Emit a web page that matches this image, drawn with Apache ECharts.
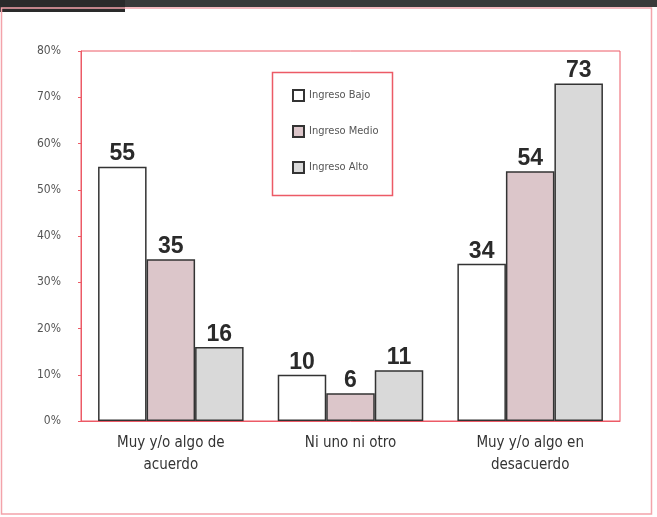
<!DOCTYPE html>
<html>
<head>
    <meta charset="utf-8">
    <title>Ingreso</title>
    <script src="https://cdn.jsdelivr.net/npm/echarts@6/dist/echarts.min.js"></script>
</head>
<body style="margin:0;background:#fff">
<div id="main" style="width:657px;height:517px"></div>
<script type="text/javascript">
    // datos
    var categorias = ['Muy y/o algo de\nacuerdo', 'Ni uno ni otro', 'Muy y/o algo en\ndesacuerdo'];
    var series_nombres = ['Ingreso Bajo', 'Ingreso Medio', 'Ingreso Alto'];
    var bajo = [55, 10, 34];
    var medio = [35, 6, 54];
    var alto = [16, 11, 73];
    var colores = ['#ffffff', '#dcc6ca', '#d9d9d9'];

    var rojo = '#ec5a66';
    var narrow = "'Liberation Sans Narrow', 'DejaVu Sans Condensed', sans-serif";

    var myChart = echarts.init(document.getElementById('main'));

    function serie(nombre, datos, color) {
        return {
            name: nombre,
            type: 'bar',
            data: datos,
            barWidth: '27%',
            barGap: '0%',
            itemStyle: { color: color, borderColor: '#333', borderWidth: 1.5 },
            label: {
                show: true,
                position: 'top',
                distance: 1,
                color: '#2a2a2a',
                fontSize: 23,
                fontWeight: 'bold',
                fontFamily: "'Liberation Sans', Arial, sans-serif"
            }
        };
    }

    myChart.setOption({
        backgroundColor: '#fff',
        animation: false,
        grid: {
            left: 81, right: 37, top: 51, bottom: 96,
            show: true, borderColor: rojo, borderWidth: 1
        },
        legend: {
            orient: 'vertical',
            left: 287,
            top: 84,
            itemWidth: 11,
            itemHeight: 11,
            itemGap: 23,
            icon: 'rect',
            data: series_nombres,
            textStyle: { color: '#555', fontSize: 11, fontFamily: narrow }
        },
        xAxis: {
            type: 'category',
            data: categorias,
            axisLine: { lineStyle: { color: rojo } },
            axisTick: { show: false },
            axisLabel: {
                color: '#333', fontSize: 15, lineHeight: 22, margin: 11,
                fontFamily: narrow
            }
        },
        yAxis: {
            type: 'value',
            min: 0, max: 80, interval: 10,
            splitLine: { show: false },
            axisLine: { show: true, lineStyle: { color: rojo } },
            axisTick: { show: true, length: 3, lineStyle: { color: rojo } },
            axisLabel: {
                formatter: '{value}%', color: '#555', fontSize: 12, margin: 20,
                fontFamily: narrow
            }
        },
        graphic: [
            // franja oscura superior
            { type: 'rect', shape: { x: 0, y: 0, width: 657, height: 7 }, style: { fill: '#3a3a3a' } },
            { type: 'rect', shape: { x: 0, y: 0, width: 125, height: 12 }, style: { fill: '#2a2a2a' } },
            // marco exterior
            { type: 'rect', shape: { x: 1.5, y: 8, width: 650, height: 506 }, style: { fill: 'none', stroke: '#f3a3aa', lineWidth: 1.5 } },
            // caja de la leyenda
            { type: 'rect', shape: { x: 272.5, y: 72.5, width: 120, height: 123 }, style: { fill: 'none', stroke: rojo, lineWidth: 1.5 } }
        ],
        series: [
            serie(series_nombres[0], bajo, colores[0]),
            serie(series_nombres[1], medio, colores[1]),
            serie(series_nombres[2], alto, colores[2])
        ]
    });
</script>
</body>
</html>
